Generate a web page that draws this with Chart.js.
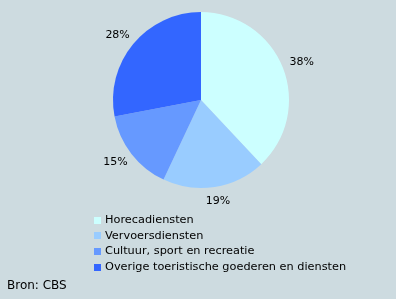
<!DOCTYPE html>
<html>
<head>
<meta charset="utf-8">
<script src="https://cdn.jsdelivr.net/npm/chart.js@4/dist/chart.umd.min.js"></script>
<style>
  html, body { margin: 0; padding: 0; background: #cddbe0; }
  #wrap { width: 396px; height: 299px; position: relative; }
</style>
</head>
<body>
<div id="wrap"><canvas id="pie" width="396" height="299"></canvas></div>
<script>
// categories and shares (percent)
const categories = [
  "Horecadiensten",
  "Vervoersdiensten",
  "Cultuur, sport en recreatie",
  "Overige toeristische goederen en diensten"
];
const shares = [38, 19, 15, 28];
const sliceColors = ["#ccffff", "#99ccff", "#6699ff", "#3366ff"];
const sourceText = "Bron: CBS";

const FONT = "DejaVu Sans, Verdana, sans-serif";

// percentage labels just outside each slice
const pctLabels = {
  id: "pctLabels",
  afterDatasetsDraw(chart) {
    const ctx = chart.ctx;
    const meta = chart.getDatasetMeta(0);
    ctx.save();
    ctx.font = "11px " + FONT;
    ctx.fillStyle = "#000";
    ctx.textAlign = "center";
    ctx.textBaseline = "middle";
    meta.data.forEach((arc, i) => {
      const mid = (arc.startAngle + arc.endAngle) / 2;
      const x = arc.x + Math.cos(mid) * arc.outerRadius * 1.23;
      const y = arc.y + Math.sin(mid) * arc.outerRadius * 1.16;
      ctx.fillText(chart.data.datasets[0].data[i] + "%", x, y);
    });
    ctx.restore();
  }
};

// vertical legend under the pie + source line
const legendList = {
  id: "legendList",
  afterDraw(chart) {
    const ctx = chart.ctx;
    ctx.save();
    ctx.font = "11.3px " + FONT;
    ctx.textBaseline = "middle";
    chart.data.labels.forEach((lab, i) => {
      const y = 219.5 + i * 15.7;
      ctx.fillStyle = chart.data.datasets[0].backgroundColor[i];
      ctx.fillRect(94, Math.round(y - 3), 7, 7);
      ctx.fillStyle = "#000";
      ctx.fillText(lab, 105, y + 0.5);
    });
    ctx.font = "12px " + FONT;
    ctx.fillText(sourceText, 7, 285.5);
    ctx.restore();
  }
};

new Chart(document.getElementById("pie"), {
  type: "pie",
  data: {
    labels: categories,
    datasets: [{
      data: shares,
      backgroundColor: sliceColors,
      borderWidth: 0
    }]
  },
  options: {
    responsive: false,
    animation: false,
    layout: { padding: { left: 113, right: 107, top: 12, bottom: 111 } },
    plugins: {
      legend: { display: false },
      tooltip: { enabled: false }
    }
  },
  plugins: [pctLabels, legendList]
});
</script>
</body>
</html>
